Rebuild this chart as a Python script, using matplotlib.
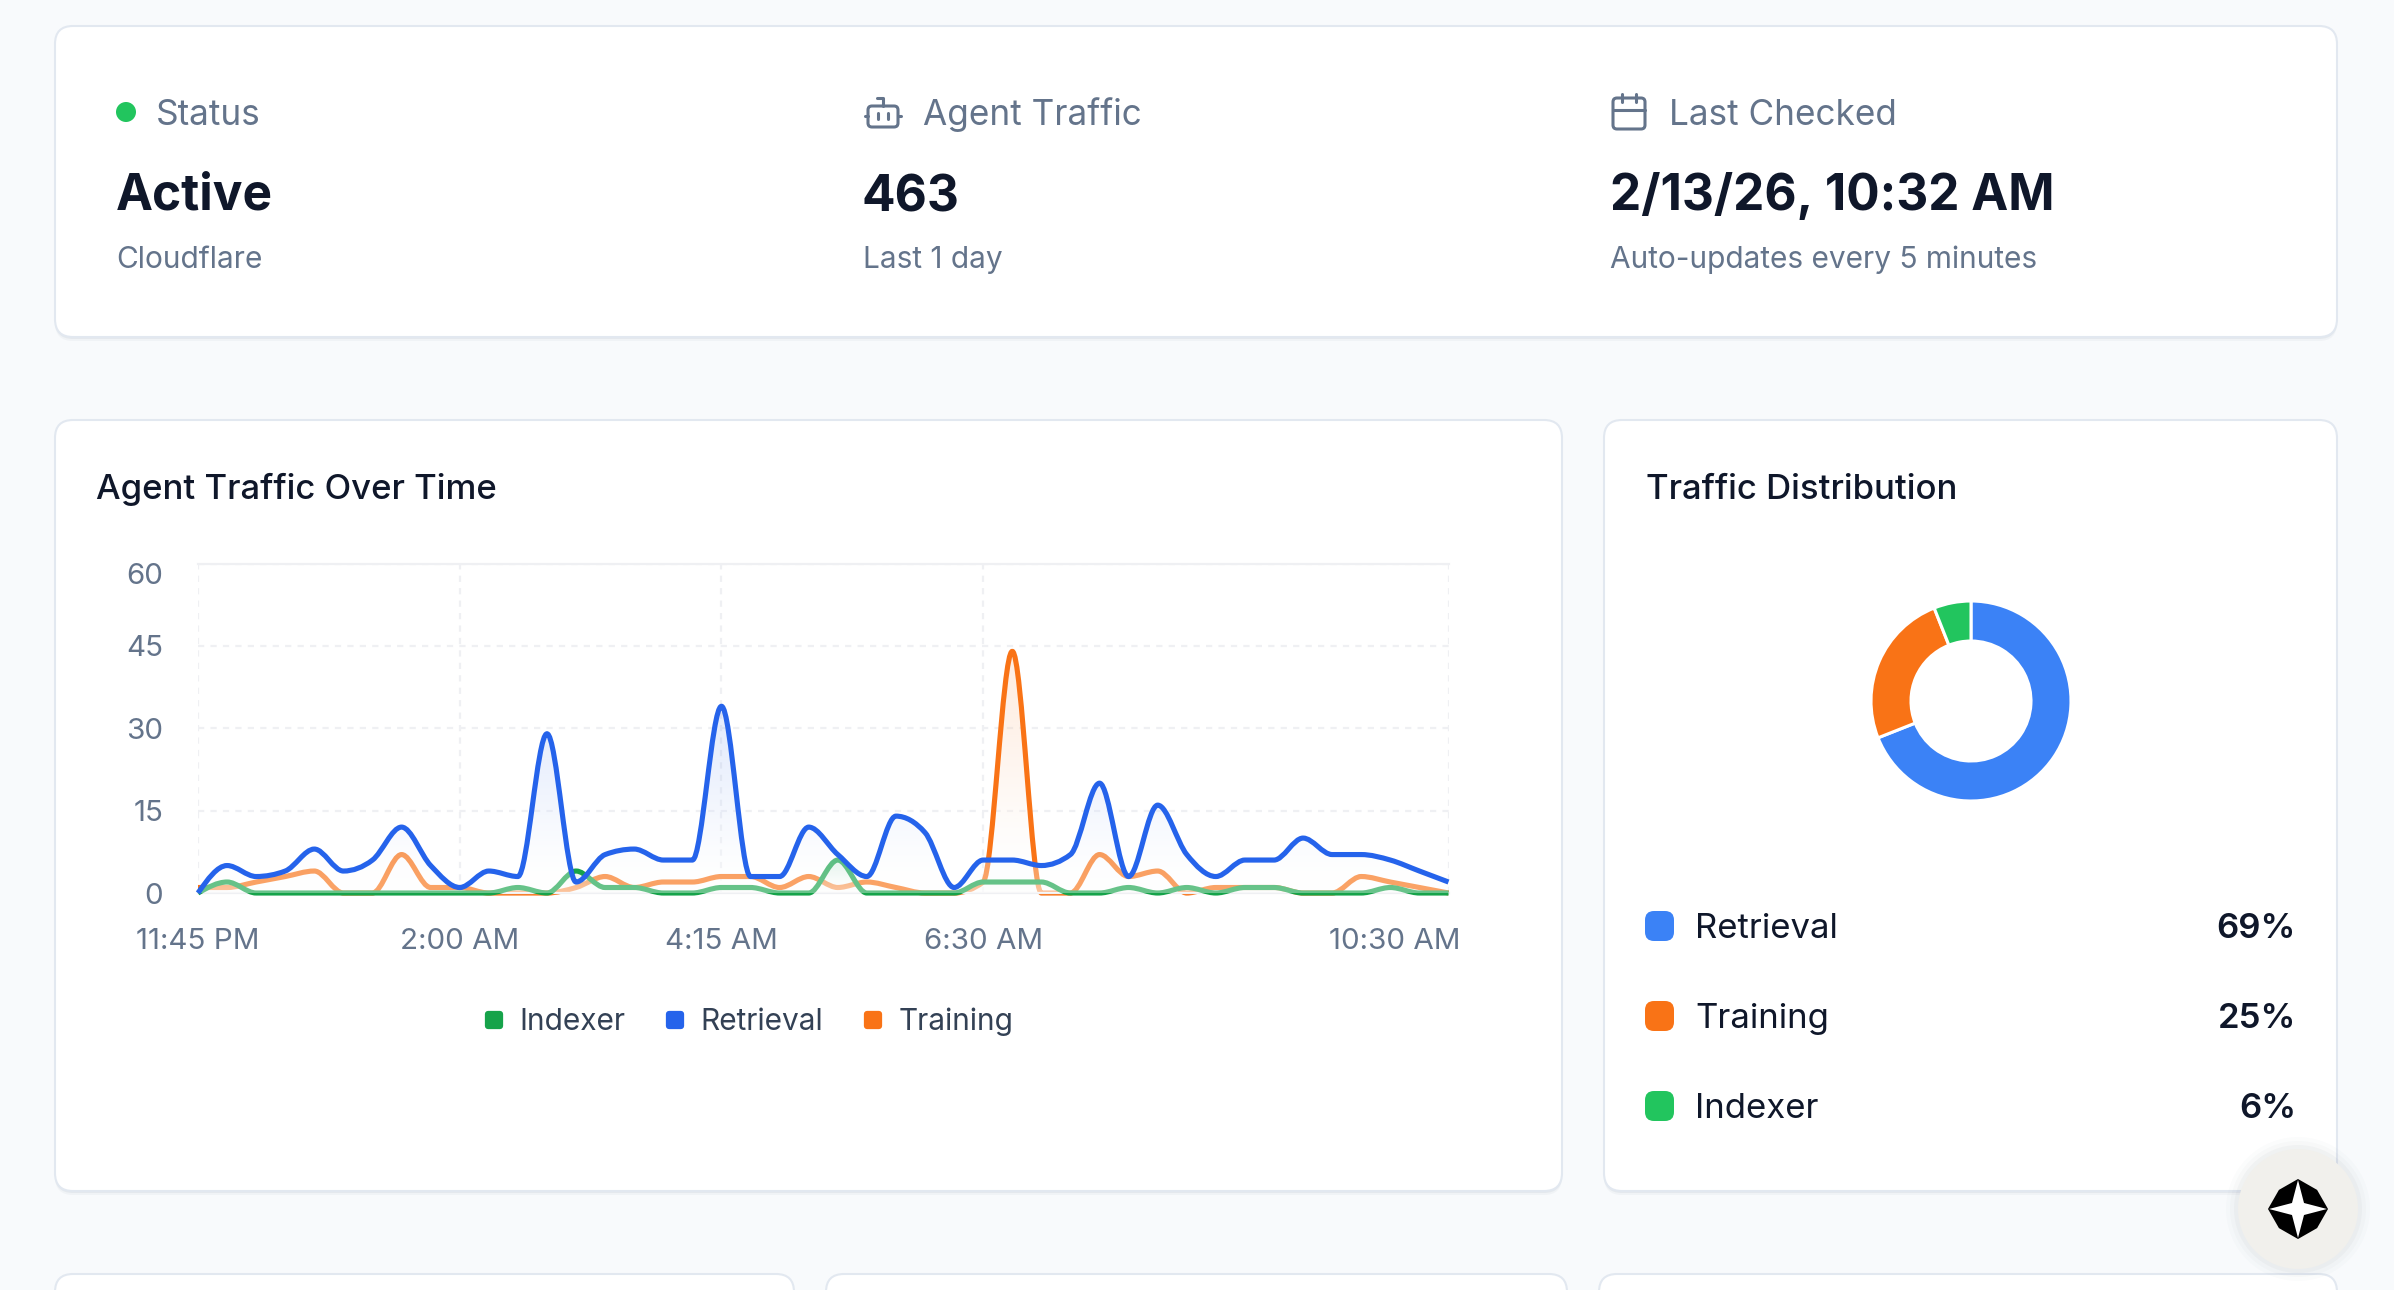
import numpy as np
import matplotlib
matplotlib.use('Agg')
import matplotlib.pyplot as plt
from matplotlib.lines import Line2D
from matplotlib.markers import MarkerStyle
from matplotlib.patches import Circle, FancyBboxPatch, PathPatch, Polygon
from matplotlib.path import Path
from matplotlib.transforms import ScaledTranslation, IdentityTransform

plt.rcParams['font.family'] = ['Inter', 'DejaVu Sans']

# one value every 15 minutes, 11:45 PM to 10:30 AM
retrieval = [0, 5, 3, 4, 8, 4, 6, 12, 5, 1, 4, 3, 29, 2, 7, 8, 6, 6, 34, 3, 3, 12,
             7, 3, 14, 11, 1, 6, 6, 5, 7, 20, 3, 16, 7, 3, 6, 6, 10, 7, 7, 6, 4, 2]
training = [1, 1, 2, 3, 4, 0, 0, 7, 1, 1, 0, 0, 0, 1, 3, 1, 2, 2, 3, 3, 1, 3,
            1, 2, 1, 0, 0, 2, 44, 0, 0, 7, 3, 4, 0, 1, 1, 1, 0, 0, 3, 2, 1, 0]
indexer = [0, 2, 0, 0, 0, 0, 0, 0, 0, 0, 0, 1, 0, 4, 1, 1, 0, 0, 1, 1, 0, 0,
           6, 0, 0, 0, 0, 2, 2, 2, 0, 0, 1, 0, 1, 0, 1, 1, 0, 0, 0, 1, 0, 0]
x_tick_pos = [0, 9, 18, 27, 43]
x_tick_labels = ['11:45 PM', '2:00 AM', '4:15 AM', '6:30 AM', '10:30 AM']
y_ticks = [0, 15, 30, 45, 60]

dist_names = ['Retrieval', 'Training', 'Indexer']
dist_values = [69, 25, 6]
dist_colors = ['#3b82f6', '#f97316', '#22c55e']

DARK = '#0f172a'
GREY = '#64748b'
GRID = '#eff0f3'
BLUE = '#2563eb'
ORANGE = '#f97316'
GREEN = '#16a34a'

W, H = 2394, 1290
fig = plt.figure(figsize=(W / 100, H / 100), dpi=100, facecolor='#f8fafc')
bg = fig.add_axes([0, 0, 1, 1])
bg.set_xlim(0, W)
bg.set_ylim(H, 0)
bg.axis('off')


def card(x0, y0, x1, y1):
    for off, a in [(4, 0.05), (2, 0.08)]:
        bg.add_patch(FancyBboxPatch((x0, y0 + off), x1 - x0, y1 - y0, boxstyle='round,pad=0,rounding_size=18',
                                    fc='#64748b', ec='none', alpha=a, zorder=1))
    bg.add_patch(FancyBboxPatch((x0, y0), x1 - x0, y1 - y0, boxstyle='round,pad=0,rounding_size=18',
                                fc='white', ec='#e2e8f0', lw=1.5, zorder=2))


card(55, 26, 2337, 337)
card(55, 420, 1562, 1191)
card(1604, 420, 2337, 1191)
card(55, 1274, 794, 1400)
card(826, 1274, 1567, 1400)
card(1599, 1274, 2337, 1400)

# stat row
bg.add_patch(Circle((126, 112), 10, fc='#22c55e', ec='none', zorder=3))
stat_x = [116, 863, 1610]
stat_label = [('Status', 156), ('Agent Traffic', 923), ('Last Checked', 1669)]
stat_value = ['Active', '463', '2/13/26, 10:32 AM']
stat_sub = ['Cloudflare', 'Last 1 day', 'Auto-updates every 5 minutes']
for i in range(3):
    bg.text(stat_label[i][1], 125, stat_label[i][0], color=GREY, fontsize=25.3, va='baseline', zorder=3)
    bg.text(stat_x[i] - (i == 1), 210 + (i == 1), stat_value[i], color=DARK, fontsize=35.7, fontweight='bold', va='baseline', zorder=3)
    bg.text(stat_x[i], 268, stat_sub[i], color=GREY, fontsize=21.5, va='baseline', zorder=3)

# robot icon
icon = dict(color=GREY, lw=2.2, solid_capstyle='round', zorder=3)
bg.add_patch(FancyBboxPatch((868, 106), 30, 21, boxstyle='round,pad=0,rounding_size=4', fc='none', ec=GREY, lw=2.2, zorder=3))
bg.plot([883, 883, 877], [106, 98, 98], **icon)
bg.plot([878, 878], [113, 119], **icon)
bg.plot([888, 888], [113, 119], **icon)
bg.plot([865, 868], [116, 116], **icon)
bg.plot([898, 901], [116, 116], **icon)

# calendar icon
bg.add_patch(FancyBboxPatch((1613, 98), 32, 31, boxstyle='round,pad=0,rounding_size=4', fc='none', ec=GREY, lw=2.2, zorder=3))
bg.plot([1613, 1645], [110, 110], **icon)
bg.plot([1622, 1622], [94, 102], **icon)
bg.plot([1636, 1636], [94, 102], **icon)

bg.text(96, 499, 'Agent Traffic Over Time', color=DARK, fontsize=25, fontweight='medium', va='baseline', zorder=3)
bg.text(1646, 499, 'Traffic Distribution', color=DARK, fontsize=25, fontweight='medium', va='baseline', zorder=3)


def monotone_curve(x, y):
    # same curve the browser chart uses (monotone x)
    x = np.asarray(x, dtype=float)
    y = np.asarray(y, dtype=float)
    h = np.diff(x)
    s = np.diff(y) / h
    t = np.zeros(len(x))
    for i in range(1, len(x) - 1):
        p = (s[i - 1] * h[i] + s[i] * h[i - 1]) / (h[i - 1] + h[i])
        t[i] = (np.sign(s[i - 1]) + np.sign(s[i])) * min(abs(s[i - 1]), abs(s[i]), 0.5 * abs(p))
    t[0] = (3 * s[0] - t[1]) / 2
    t[-1] = (3 * s[-1] - t[-2]) / 2
    verts = [(x[0], y[0])]
    codes = [Path.MOVETO]
    for i in range(len(h)):
        verts += [(x[i] + h[i] / 3, y[i] + h[i] * t[i] / 3),
                  (x[i + 1] - h[i] / 3, y[i + 1] - h[i] * t[i + 1] / 3),
                  (x[i + 1], y[i + 1])]
        codes += [Path.CURVE4] * 3
    return verts, codes


def draw_series(ax, values, color, z):
    xs = np.arange(len(values))
    verts, codes = monotone_curve(xs, values)
    rgb = np.array(matplotlib.colors.to_rgb(color))
    t = np.linspace(0, 1, 256)[:, None]
    img = np.zeros((256, 1, 4))
    mix = t ** 2.0
    img[:, :, :3] = (rgb * mix + (1 - mix))[:, None, :].reshape(256, 1, 3)
    img[:, :, 3] = (0.36 - 0.24 * t).reshape(256, 1)
    area = Path(verts + [(xs[-1], 0), (0, 0), (0, 0)], codes + [Path.LINETO, Path.LINETO, Path.CLOSEPOLY])
    im = ax.imshow(img, extent=(0, xs[-1], 0, max(values)), origin='lower', aspect='auto', zorder=z, interpolation='bilinear')
    im.set_clip_path(PathPatch(area, transform=ax.transData))
    ax.add_patch(PathPatch(Path(verts, codes), fc='none', ec=color, lw=3.7, zorder=z + 0.5, clip_on=False, capstyle='butt', joinstyle='round'))


ax = fig.add_axes([198 / W, 1 - 893 / H, (1448.5 - 198) / W, (893 - 563.5) / H], zorder=3)
ax.patch.set_alpha(0)
draw_series(ax, training, ORANGE, 2)
draw_series(ax, indexer, GREEN, 4)
draw_series(ax, retrieval, BLUE, 6)
ax.set_xlim(0, 43)
ax.set_ylim(0, 60)
ax.set_xticks(x_tick_pos, x_tick_labels)
ax.set_yticks(y_ticks)
ax.tick_params(length=0, labelsize=21.3, labelcolor=GREY)
ax.tick_params(axis='x', pad=25.2)
ax.tick_params(axis='y', pad=25)
ax.grid(True, color=GRID, lw=1.6, ls=(0, (2.8, 2.8)), zorder=1)
ax.set_axisbelow(True)
for side in ['left', 'right']:
    ax.spines[side].set_visible(False)
for side in ['top', 'bottom']:
    ax.spines[side].set_color(GRID)
    ax.spines[side].set_linewidth(1.6)

# recharts nudges the end labels inwards
lab = ax.get_xticklabels()[-1]
lab.set_transform(lab.get_transform() + ScaledTranslation(-54 / 100, 0, fig.dpi_scale_trans))
lab = ax.get_yticklabels()[-1]
lab.set_transform(lab.get_transform() + ScaledTranslation(0, -10 / 100, fig.dpi_scale_trans))


def legend_marker(color):
    return Line2D([], [], ls='none', color=color, marker=MarkerStyle('s', joinstyle='round'), ms=8.5, mew=4.5, mec=color)


leg = ax.legend(handles=[legend_marker(GREEN), legend_marker(BLUE), legend_marker(ORANGE)],
                labels=['Indexer', 'Retrieval', 'Training'], ncol=3, frameon=False, fontsize=21.5,
                labelcolor='#334155', loc='center', bbox_to_anchor=(749, H - 1022),
                bbox_transform=IdentityTransform(), handlelength=0.62, handletextpad=0.55,
                columnspacing=1.35, borderpad=0, numpoints=1)

# donut
r = 100
pie_ax = fig.add_axes([(1971 - r) / W, 1 - (701 + r) / H, 2 * r / W, 2 * r / H], zorder=3)
pie_ax.pie(dist_values, colors=dist_colors, startangle=90, counterclock=False, radius=1,
           wedgeprops=dict(width=1 - 60 / r, edgecolor='white', linewidth=2.2))
pie_ax.set_xlim(-1, 1)
pie_ax.set_ylim(-1, 1)

for name, val, col, y in zip(dist_names, dist_values, dist_colors, [926, 1016, 1106]):
    bg.add_patch(FancyBboxPatch((1645, y - 15), 29, 30, boxstyle='round,pad=0,rounding_size=9', fc=col, ec='none', zorder=3))
    bg.text(1695, y + 3, name, color=DARK, fontsize=25, va='center', zorder=3)
    bg.text(2296, y + 3, '%d%%' % val, color=DARK, fontsize=25, fontweight='semibold', va='center', ha='right', zorder=3)

# floating button
for rad, a in [(72, 0.015), (68, 0.02), (64, 0.03)]:
    bg.add_patch(Circle((2298, 1209), rad, fc='#334155', ec='none', alpha=a, zorder=4))
bg.add_patch(Circle((2298, 1209), 60, fc='#f1f0ec', ec='none', zorder=5))
ang = np.deg2rad(np.arange(0, 360, 45))
rad = np.array([30, 27, 30, 27, 30, 27, 30, 27])
bg.add_patch(Polygon(np.c_[2298 + rad * np.cos(ang), 1209 + rad * np.sin(ang)], fc='black', ec='none', zorder=6))
rad = np.array([29, 8.5, 29, 8.5, 29, 8.5, 29, 8.5])
bg.add_patch(Polygon(np.c_[2298 + rad * np.cos(ang), 1209 + rad * np.sin(ang)], fc='white', ec='none', zorder=7))

fig.savefig('out.png', dpi=100, facecolor=fig.get_facecolor())
